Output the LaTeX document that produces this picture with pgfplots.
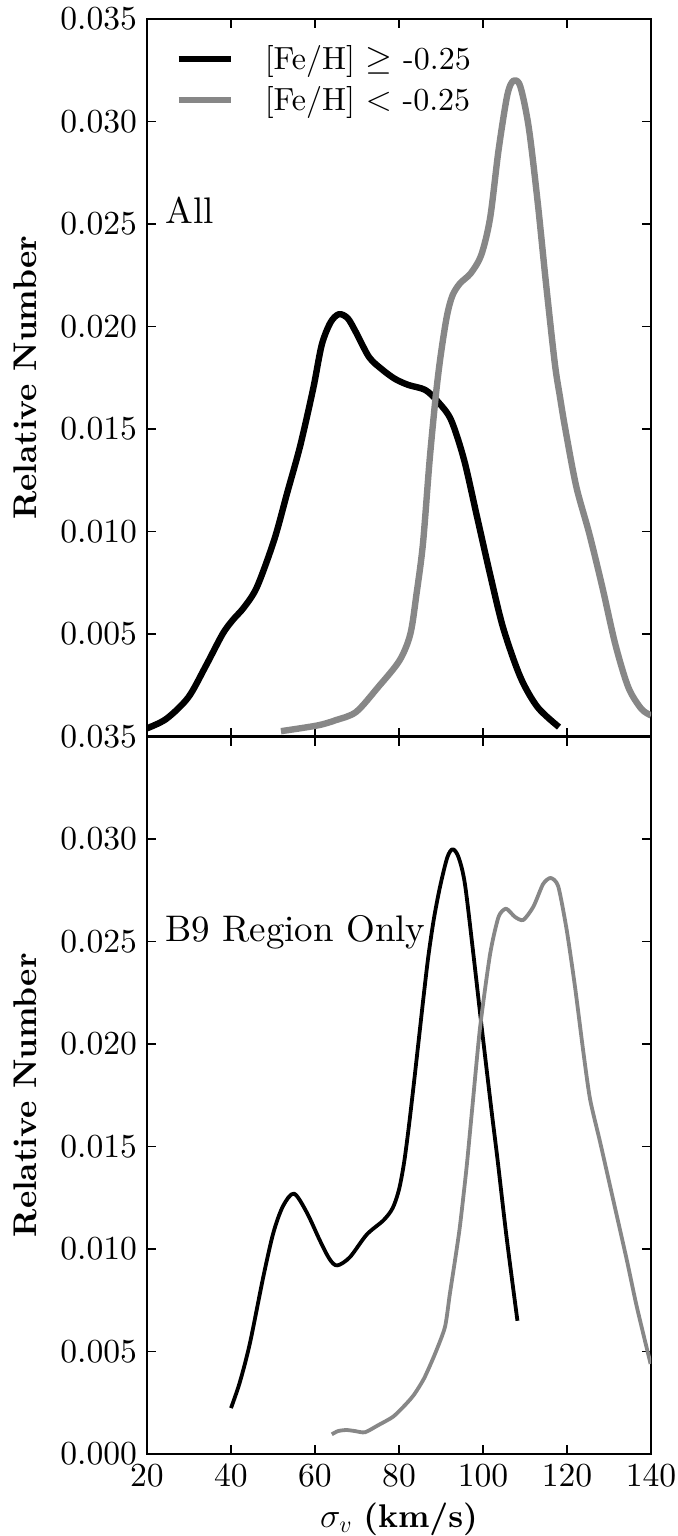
\documentclass[border=0pt]{standalone}
\usepackage{fontspec}
\setmainfont{lmroman10-regular.otf}[BoldFont=lmroman10-bold.otf, ItalicFont=lmroman10-italic.otf]
\usepackage{pgfplots}
\pgfplotsset{compat=1.18}
\definecolor{mgray}{gray}{0.53}
\begin{document}
\begin{tikzpicture}
\pgfplotsset{
  every axis/.append style={
    scale only axis, width=252pt, height=358.75pt,
    xmin=20, xmax=140, ymin=0, ymax=0.035,
    axis line style={line width=1.3pt},
    every tick/.style={black, line width=0.75pt},
    major tick length=4.5pt,
    tick align=inside,
    xtick pos=both, ytick pos=both,
    xticklabel pos=lower, yticklabel pos=left,
    xtick={20,40,60,80,100,120,140},
    scaled y ticks=false,
    /pgf/number format/assume math mode=true,
    yticklabel style={/pgf/number format/fixed, /pgf/number format/fixed zerofill, /pgf/number format/precision=3, font=\fontsize{16.8}{20}\selectfont, xshift=-1.5pt},
    xticklabel style={font=\fontsize{16.8}{20}\selectfont, yshift=-1.5pt},
    every axis y label/.style={at={([xshift=-61pt]axis description cs:0,0.5)}, rotate=90, anchor=center, font=\fontsize{16.4}{19}\selectfont},
    every axis x label/.style={at={([yshift=-32.5pt]axis description cs:0.5,0)}, anchor=center, font=\fontsize{16.4}{19}\selectfont},
  }
}
\begin{axis}[
  name=top,
  ytick={0.005,0.01,0.015,0.02,0.025,0.03,0.035},
  xticklabels={},
  ylabel={\textbf{Relative Number}},
  legend style={draw=none, fill=none, at={(axis description cs:0,1)}, anchor=north west,
    xshift=14pt, yshift=-13pt, inner sep=0pt, row sep=7pt,
    font=\fontsize{16}{19}\selectfont, nodes={inner sep=0pt},
    /tikz/every odd column/.append style={column sep=15.5pt}},
  legend cell align=left,
  legend image code/.code={\draw[#1] (0pt,0pt) -- (26pt,0pt);},
]
\coordinate (TL) at (rel axis cs:0,1);
\addplot[black, line width=3.2pt, line join=round, smooth, tension=0.5] coordinates {
(20,0.0004) (24.6,0.00086) (29.8,0.0019) (33.9,0.0034) (38,0.0050) (40.5,0.0057)
(43.1,0.0063) (46.2,0.0073) (50.3,0.0096) (53.4,0.0119) (56.5,0.0142) (59.6,0.0170)
(61.6,0.0191) (63.7,0.0202) (65.7,0.0206) (67.8,0.0204) (69.8,0.0197) (72.9,0.0185)
(76,0.0179) (79,0.01745) (82.2,0.01715) (86.3,0.0169) (89.4,0.0163) (92.4,0.01544)
(95.5,0.01349) (98.6,0.0107) (101.7,0.0079) (104.8,0.0053) (108.9,0.0029) (113,0.00143)
(118.1,0.00046)
};
\addlegendentry{[Fe/H] $\geq$ -0.25}
\addplot[mgray, line width=3.2pt, line join=round, smooth, tension=0.5] coordinates {
(51.9,0.00026) (60.6,0.00054) (65,0.0008) (69.8,0.0012) (75,0.0024) (80.1,0.0037)
(82.7,0.0050) (84.2,0.0070) (85.7,0.0094) (87.3,0.0135) (88.8,0.0167) (90,0.0187)
(91.4,0.0205) (92.7,0.0215) (94.5,0.0221) (97.1,0.0226) (99.6,0.0235) (101.7,0.0253)
(103.7,0.0286) (105.8,0.0313) (107.3,0.0320) (108.9,0.0317) (110.9,0.0297) (113,0.0261)
(115,0.0221) (117.1,0.0182) (118.3,0.0166) (119.6,0.0150) (122.2,0.0122) (125.3,0.0099)
(128.4,0.0073) (131.5,0.0045) (134.6,0.0024) (137.7,0.00135) (140,0.00103)
};
\addlegendentry{[Fe/H] $<$ -0.25}
\node[anchor=base west, inner sep=0pt, font=\fontsize{18.5}{22}\selectfont] at (axis cs:24.3,0.025) {All};
\end{axis}
\begin{axis}[
  name=bot,
  at={(top.south west)}, anchor=north west,
  ytick={0,0.005,0.01,0.015,0.02,0.025,0.03,0.035},
  xlabel={$\sigma_v$ \textbf{(km/s)}},
  ylabel={\textbf{Relative Number}},
]
\coordinate (BR) at (rel axis cs:1,0);
\addplot[black, line width=1.9pt, line join=round, smooth, tension=0.5] coordinates {
(40,0.00224) (42.1,0.0035) (44.5,0.0054) (47.7,0.00865) (50.1,0.0108) (52.4,0.0121)
(55.0,0.0127) (58.0,0.0118) (61.2,0.0104) (63.5,0.0095) (65.3,0.0092) (68.3,0.0096)
(72.3,0.0107) (76.3,0.0114) (78.5,0.0120) (80.0,0.0129) (81.2,0.0142) (82.3,0.0159)
(83.5,0.0180) (84.7,0.0202) (85.9,0.0224) (87.0,0.0243) (88.3,0.0261) (89.8,0.0277)
(91.5,0.0291) (92.8,0.0295) (94.2,0.0291) (95.7,0.0278) (97.7,0.0244) (99.7,0.0208)
(102.0,0.0168) (103.5,0.0143) (105.6,0.0106) (108.2,0.0065)
};
\addplot[mgray, line width=1.9pt, line join=round, smooth, tension=0.4] coordinates {
(64.0,0.00096) (65.5,0.00112) (67.5,0.00117) (69.5,0.00112) (71.9,0.00106) (75,0.0014)
(78.6,0.00182) (81.5,0.0024) (83.6,0.0029) (86,0.0037) (88.6,0.0049) (90.95,0.0062)
(92.1,0.0078) (93.3,0.0094) (94.5,0.0111) (96.1,0.0140) (97.5,0.0170) (99.3,0.0208)
(101.7,0.0244) (103.7,0.0262) (105.5,0.0266) (107.6,0.0262) (109.6,0.02605) (112.0,0.0267)
(114.3,0.0278) (116.1,0.0281) (117.9,0.0277) (119.9,0.0256) (121.9,0.0228) (123.9,0.0196)
(125.5,0.0173) (127.9,0.0152) (131.0,0.0124) (134.2,0.0095) (136.6,0.0072) (139.9,0.0044)
};
\node[anchor=base west, inner sep=0pt, font=\fontsize{18.5}{22}\selectfont] at (axis cs:24.3,0.025) {B9 Region Only};
\end{axis}
\pgfresetboundingbox
\path[use as bounding box] ([shift={(-73.5pt,9.5pt)}]TL) rectangle ([shift={(13.5pt,-41pt)}]BR);
\end{tikzpicture}
\end{document}
